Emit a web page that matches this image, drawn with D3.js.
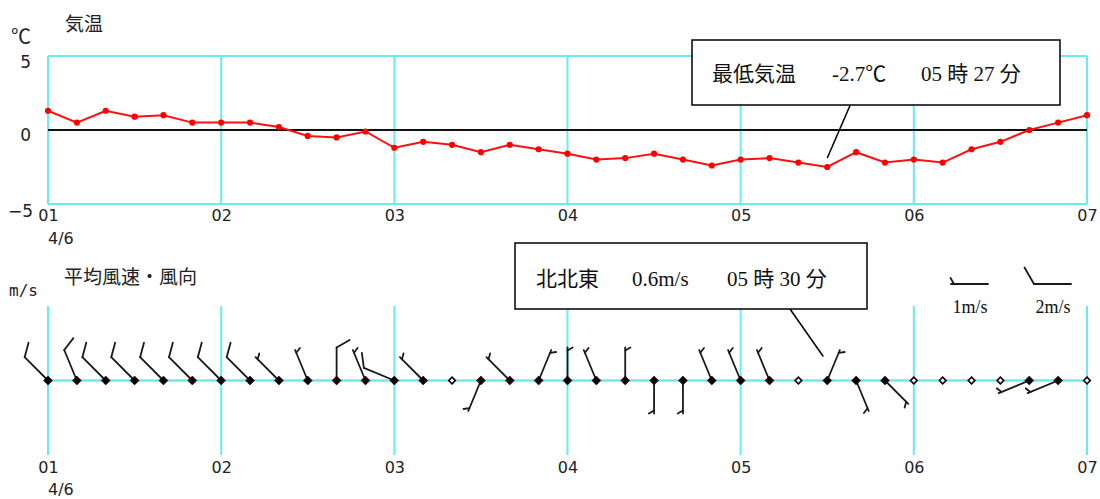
<!DOCTYPE html>
<html><head><meta charset="utf-8">
<script src="https://cdn.jsdelivr.net/npm/d3@7"></script>
<style>
html,body{margin:0;padding:0;background:#fff;}
svg{display:block;}
</style></head>
<body>
<svg id="c" width="1100" height="499"></svg>
<script>
// ---------------- DATA ----------------
const hourLabels = ["01","02","03","04","05","06","07"];
const hourTicks = ["01:00","02:00","03:00","04:00","05:00","06:00","07:00"];
const dateLabel = "4/6";
const times = ["01:00","01:10","01:20","01:30","01:40","01:50",
               "02:00","02:10","02:20","02:30","02:40","02:50",
               "03:00","03:10","03:20","03:30","03:40","03:50",
               "04:00","04:10","04:20","04:30","04:40","04:50",
               "05:00","05:10","05:20","05:30","05:40","05:50",
               "06:00","06:10","06:20","06:30","06:40","06:50","07:00"];
const temps = [1.3,0.5,1.3,0.9,1.0,0.5,
               0.5,0.5,0.2,-0.4,-0.5,-0.1,
               -1.2,-0.8,-1.0,-1.5,-1.0,-1.3,
               -1.6,-2.0,-1.9,-1.6,-2.0,-2.4,
               -2.0,-1.9,-2.2,-2.5,-1.5,-2.2,
               -2.0,-2.2,-1.3,-0.8,0.0,0.5,1.0];
const tempTicks = [-5,0,5];
const windDir = ["北西","北北西","北西","北西","北西","北西",
                 "北西","北西","北西","北北西","北","北北西",
                 "西北西","北西","静穏","南南西","北西","北北東",
                 "北","北北西","北","南","南","北北西",
                 "北北西","北北西","静穏","北北東","南南東","南東",
                 "静穏","静穏","静穏","静穏","西南西","西南西","静穏"];
const windSpeed = [2.3,2.1,2.2,2.2,2.1,2.0,
                   2.2,2.0,1.4,1.3,1.8,1.2,
                   1.5,1.2,0.0,1.1,1.3,1.2,
                   1.1,1.2,1.0,1.3,1.2,1.1,
                   1.1,1.0,0.2,0.6,1.3,1.1,
                   0.1,0.0,0.2,0.3,1.2,1.2,0.2];
const compass = {"北":0,"北北東":22.5,"北東":45,"東北東":67.5,"東":90,"東南東":112.5,"南東":135,"南南東":157.5,
                 "南":180,"南南西":202.5,"南西":225,"西南西":247.5,"西":270,"西北西":292.5,"北西":315,"北北西":337.5};
const legendSpeeds = [1,2];
const legendLabels = ["1m/s","2m/s"];
const minTempNote = ["最低気温","-2.7℃","05 時 27 分"];
const minTempTime = "05:30";
const windNote = ["北北東","0.6m/s","05 時 30 分"];
const windNoteTime = "05:30";

// ---------------- LAYOUT ----------------
const svg = d3.select("#c");
const CYAN = "#66eeee";
const toMin = s => { const [h,m] = s.split(":").map(Number); return (h-1)*60+m; };
const x = d3.scaleLinear().domain([0,360]).range([48,1087]);
const yT = d3.scaleLinear().domain([-5,5]).range([204,56]);
const yW = d3.scaleLinear().domain([-1,1]).range([455,306]); // wind panel: 0 = baseline
const sansJP = "'Noto Sans CJK JP', sans-serif";
const serif = "'Liberation Serif', 'Noto Sans CJK JP', serif";
const digitFont = "'DejaVu Sans', sans-serif";

// ===== Temperature panel =====
const gT = svg.append("g");
gT.selectAll("line.vg").data(hourTicks).join("line")
  .attr("x1",d=>x(toMin(d))).attr("x2",d=>x(toMin(d)))
  .attr("y1",yT(5)).attr("y2",yT(-5))
  .attr("stroke",CYAN).attr("stroke-width",2);
[5,-5].forEach(v=>{
  gT.append("line").attr("x1",x(0)).attr("x2",x(360)).attr("y1",yT(v)).attr("y2",yT(v))
    .attr("stroke",CYAN).attr("stroke-width",2);
});
gT.append("line").attr("x1",x(0)).attr("x2",x(360)).attr("y1",yT(0)).attr("y2",yT(0))
  .attr("stroke","#111").attr("stroke-width",2);

const yAx = gT.append("g").attr("transform",`translate(${x(0)-14},0)`)
  .call(d3.axisLeft(yT).tickValues(tempTicks).tickSize(0).tickFormat(d=>d<0?"\u2212"+Math.abs(d):d));
yAx.select(".domain").remove();
yAx.selectAll("text").attr("font-family",digitFont).attr("font-size",17).attr("fill","#222")
  .attr("dy",d=>d===5?"0.7em":(d===0?"0.6em":"0.75em")).attr("dx",d=>d<0?2:0);

const xAxT = gT.append("g").attr("transform",`translate(0,${yT(-5)})`)
  .call(d3.axisBottom(x).tickValues(hourTicks.map(toMin)).tickSize(0).tickFormat((d,i)=>hourLabels[i]));
xAxT.select(".domain").remove();
xAxT.selectAll("text").attr("font-family",digitFont).attr("font-size",16).attr("fill","#222").attr("dy","0.9em");
gT.append("text").attr("x",x(0)).attr("y",244).text(dateLabel)
  .attr("font-family",digitFont).attr("font-size",16).attr("fill","#222");

gT.append("text").attr("x",11).attr("y",44).text("℃").attr("font-family",sansJP).attr("font-size",20).attr("fill","#222");
gT.append("text").attr("x",65).attr("y",31).text("気温").attr("font-family",sansJP).attr("font-size",19).attr("fill","#222");

const tData = times.map((t,i)=>({m:toMin(t),v:temps[i]}));
gT.append("path").datum(tData)
  .attr("d",d3.line().x(d=>x(d.m)).y(d=>yT(d.v)))
  .attr("fill","none").attr("stroke","#ff1010").attr("stroke-width",2);
gT.selectAll("circle.pt").data(tData).join("circle")
  .attr("cx",d=>x(d.m)).attr("cy",d=>yT(d.v)).attr("r",3.1).attr("fill","#ff0000");

const mi = times.indexOf(minTempTime);
const mX = x(toMin(minTempTime)), mY = yT(temps[mi]);
gT.append("line").attr("x1",mX).attr("y1",mY-9).attr("x2",mX+23).attr("y2",105)
  .attr("stroke","#000").attr("stroke-width",1.5);
gT.append("rect").attr("x",692).attr("y",40).attr("width",368).attr("height",65)
  .attr("fill","#fff").attr("stroke","#000").attr("stroke-width",1.5);
const mt = gT.append("text").attr("y",81).attr("font-family",serif).attr("font-size",21).attr("fill","#111");
mt.append("tspan").attr("x",712).text(minTempNote[0]);
mt.append("tspan").attr("x",832).text(minTempNote[1]);
mt.append("tspan").attr("x",921).text(minTempNote[2]);

// ===== Wind panel =====
const gW = svg.append("g");
gW.selectAll("line.vg").data(hourTicks).join("line")
  .attr("x1",d=>x(toMin(d))).attr("x2",d=>x(toMin(d)))
  .attr("y1",yW(1)).attr("y2",yW(-1))
  .attr("stroke",CYAN).attr("stroke-width",2);
gW.append("line").attr("x1",x(0)).attr("x2",x(360)).attr("y1",yW(0)).attr("y2",yW(0))
  .attr("stroke",CYAN).attr("stroke-width",2.5);

const xAxW = gW.append("g").attr("transform",`translate(0,${yW(-1)})`)
  .call(d3.axisBottom(x).tickValues(hourTicks.map(toMin)).tickSize(0).tickFormat((d,i)=>hourLabels[i]));
xAxW.select(".domain").remove();
xAxW.selectAll("text").attr("font-family",digitFont).attr("font-size",16).attr("fill","#222").attr("dy","0.95em");
gW.append("text").attr("x",x(0)).attr("y",495).text(dateLabel)
  .attr("font-family",digitFont).attr("font-size",16).attr("fill","#222");
gW.append("text").attr("x",9).attr("y",296).text("m/s").attr("font-family","'DejaVu Sans Mono', monospace").attr("font-size",16).attr("fill","#222");
gW.append("text").attr("x",64).attr("y",284).text("平均風速・風向").attr("font-family",sansJP).attr("font-size",19).attr("fill","#222");

function barb(g, cx, cy, deg, speed, L, longLen, shortLen){
  const n = Math.round(speed);
  const th = deg*Math.PI/180;
  const ux = Math.sin(th), uy = -Math.cos(th);
  const tx = cx+ux*L, ty = cy+uy*L;
  const segs = [[cx,cy,tx,ty]];
  const fth = th + 60*Math.PI/180;
  const fx = Math.sin(fth), fy = -Math.cos(fth);
  const nLong = Math.floor(n/2), nShort = n%2;
  let pos = 0;
  for(let k=0;k<nLong;k++){
    const sx = tx-ux*pos, sy = ty-uy*pos;
    segs.push([sx,sy,sx+fx*longLen,sy+fy*longLen]); pos += 5;
  }
  if(nShort){
    if(nLong===0) pos = 3;
    const sx = tx-ux*pos, sy = ty-uy*pos;
    segs.push([sx,sy,sx+fx*shortLen,sy+fy*shortLen]);
  }
  g.selectAll(null).data(segs).join("line")
    .attr("x1",d=>d[0]).attr("y1",d=>d[1]).attr("x2",d=>d[2]).attr("y2",d=>d[3])
    .attr("stroke","#1a1a1a").attr("stroke-width",1.8).attr("stroke-linecap","round");
}

const wData = times.map((t,i)=>({m:toMin(t),dir:windDir[i],s:windSpeed[i]}));
const barbG = gW.append("g");
wData.forEach(d=>{
  if(d.dir!=="静穏" && d.s>=0.5) barb(barbG, x(d.m), yW(0), compass[d.dir], d.s, 33, 15, 6);
});
gW.selectAll("path.st").data(wData).join("path")
  .attr("transform",d=>`translate(${x(d.m)},${yW(0)}) rotate(45)`)
  .attr("d",d=> (d.dir==="静穏") ? d3.symbol(d3.symbolSquare,22)() : d3.symbol(d3.symbolSquare,40)())
  .attr("fill",d=>d.dir==="静穏"?"#fff":"#000")
  .attr("stroke","#000").attr("stroke-width",d=>d.dir==="静穏"?1.6:0.5);

const wX = x(toMin(windNoteTime));
gW.append("line").attr("x1",wX-4).attr("y1",yW(0)-24).attr("x2",790).attr("y2",309)
  .attr("stroke","#000").attr("stroke-width",1.5);
gW.append("rect").attr("x",515).attr("y",243).attr("width",352).attr("height",66)
  .attr("fill","#fff").attr("stroke","#000").attr("stroke-width",1.5);
const wt = gW.append("text").attr("y",286).attr("font-family",serif).attr("font-size",21).attr("fill","#111");
wt.append("tspan").attr("x",536).text(windNote[0]);
wt.append("tspan").attr("x",632).text(windNote[1]);
wt.append("tspan").attr("x",727).text(windNote[2]);

const legX = [988,1071];
legendSpeeds.forEach((s,i)=>{
  barb(gW, legX[i], 284, 270, s, 37, 19, 7);
  gW.append("text").attr("x",legX[i]-18).attr("y",313).attr("text-anchor","middle").text(legendLabels[i])
    .attr("font-family",serif).attr("font-size",18).attr("fill","#111");
});
</script>
</body></html>
